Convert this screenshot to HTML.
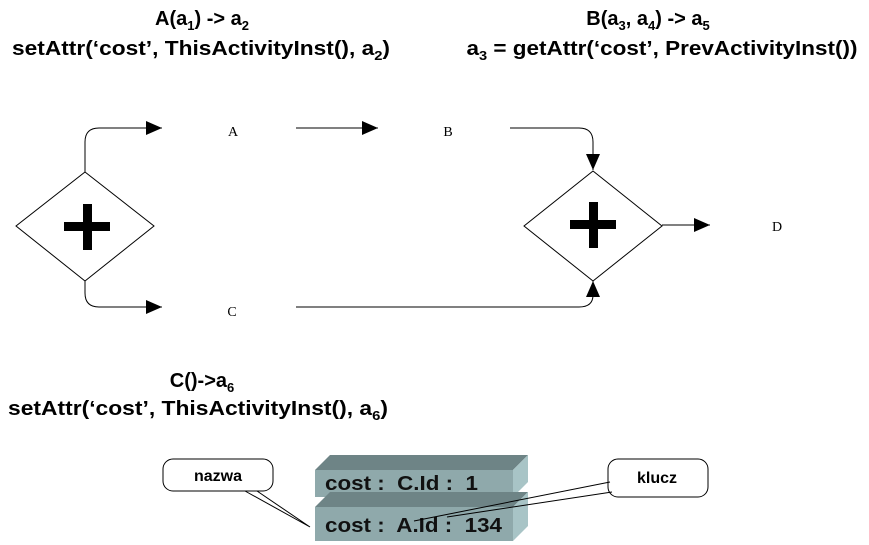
<!DOCTYPE html>
<html><head><meta charset="utf-8"><style>body{margin:0;background:#fff}svg{display:block}</style></head><body>
<svg width="869" height="545" viewBox="0 0 869 545" xmlns="http://www.w3.org/2000/svg">
<defs>
<marker id="ar2" markerWidth="16" markerHeight="14" refX="16" refY="7" orient="auto" markerUnits="userSpaceOnUse" viewBox="0 0 16 14"><path d="M0,0 L16,7 L0,14 z" fill="#000"/></marker></defs>
<g font-family="Liberation Sans, Arial, sans-serif" font-weight="bold" font-size="20" text-anchor="middle">
<text x="202" y="25">A(a<tspan font-size="13" dy="5">1</tspan><tspan dy="-5">) -&gt; a</tspan><tspan font-size="13" dy="5">2</tspan></text>
<text x="201" y="55" textLength="378" lengthAdjust="spacingAndGlyphs">setAttr(‘cost’, ThisActivityInst(), a<tspan font-size="13" dy="5">2</tspan><tspan dy="-5">)</tspan></text>
<text x="648" y="25">B(a<tspan font-size="13" dy="5">3</tspan><tspan dy="-5">, a</tspan><tspan font-size="13" dy="5">4</tspan><tspan dy="-5">) -&gt; a</tspan><tspan font-size="13" dy="5">5</tspan></text>
<text x="662" y="55" textLength="391" lengthAdjust="spacingAndGlyphs">a<tspan font-size="13" dy="5">3</tspan><tspan dy="-5"> = getAttr(‘cost’, PrevActivityInst())</tspan></text>
<text x="202" y="387">C()-&gt;a<tspan font-size="13" dy="5">6</tspan></text>
<text x="198" y="415" textLength="380" lengthAdjust="spacingAndGlyphs">setAttr(‘cost’, ThisActivityInst(), a<tspan font-size="13" dy="5">6</tspan><tspan dy="-5">)</tspan></text>
</g>
<g font-family="Liberation Serif, serif" font-size="14" text-anchor="middle">
<text x="233" y="136">A</text><text x="448" y="136">B</text><text x="232" y="316">C</text><text x="777" y="231">D</text>
</g>
<g fill="#fff" stroke="#000" stroke-width="1">
<polygon points="85,172 154,226 85,281 16,226"/>
<polygon points="593,171 662,226 593,281 524,226"/>
</g>
<g fill="#000">
<rect x="64" y="222" width="46" height="9"/><rect x="83" y="204" width="9" height="46"/>
<rect x="570" y="220" width="46" height="9"/><rect x="589" y="202" width="9" height="46"/>
</g>
<g fill="none" stroke="#000" stroke-width="1">
<path d="M85,172 V142 Q85,128 99,128 H162" marker-end="url(#ar2)"/>
<path d="M296,128 H378" marker-end="url(#ar2)"/>
<path d="M510,128 H579 Q593,128 593,142 V170" marker-end="url(#ar2)"/>
<path d="M85,281 V293 Q85,307 99,307 H162" marker-end="url(#ar2)"/>
<path d="M296,307 H579 Q593,307 593,295 V281" marker-end="url(#ar2)"/>
<path d="M662,225 H710" marker-end="url(#ar2)"/>
</g>
<polygon points="315,470 330,455 528,455 513,470" fill="#6e8486"/>
<polygon points="513,470 528,455 528,482 513,497" fill="#a8c4c6"/>
<rect x="315" y="470" width="198" height="27" fill="#8fa9ab"/>
<polygon points="315,507 330,492 528,492 513,507" fill="#6e8486"/>
<polygon points="513,507 528,492 528,526 513,541" fill="#a8c4c6"/>
<rect x="315" y="507" width="198" height="34" fill="#8fa9ab"/>
<g font-family="Liberation Sans, Arial, sans-serif" font-weight="bold" font-size="20" fill="#111">
<text x="325" y="490" textLength="153" lengthAdjust="spacingAndGlyphs">cost :&#160; C.Id :&#160; 1</text>
<text x="325" y="532" textLength="177" lengthAdjust="spacingAndGlyphs">cost :&#160; A.Id :&#160; 134</text>
</g>
<g fill="none" stroke="#000" stroke-width="1">
<rect x="163" y="459" width="110" height="32" rx="10" fill="#fff"/>
<rect x="608" y="459" width="100" height="38" rx="10" fill="#fff"/>
<path d="M245,491 L310,527 M257,491 L310,527"/>
<path d="M610,482 L414,521 M612,492 L447,517"/>
</g>
<g font-family="Liberation Sans, Arial, sans-serif" font-weight="bold" font-size="16" text-anchor="middle">
<text x="218" y="481">nazwa</text><text x="657" y="483">klucz</text>
</g>
</svg>
</body></html>
